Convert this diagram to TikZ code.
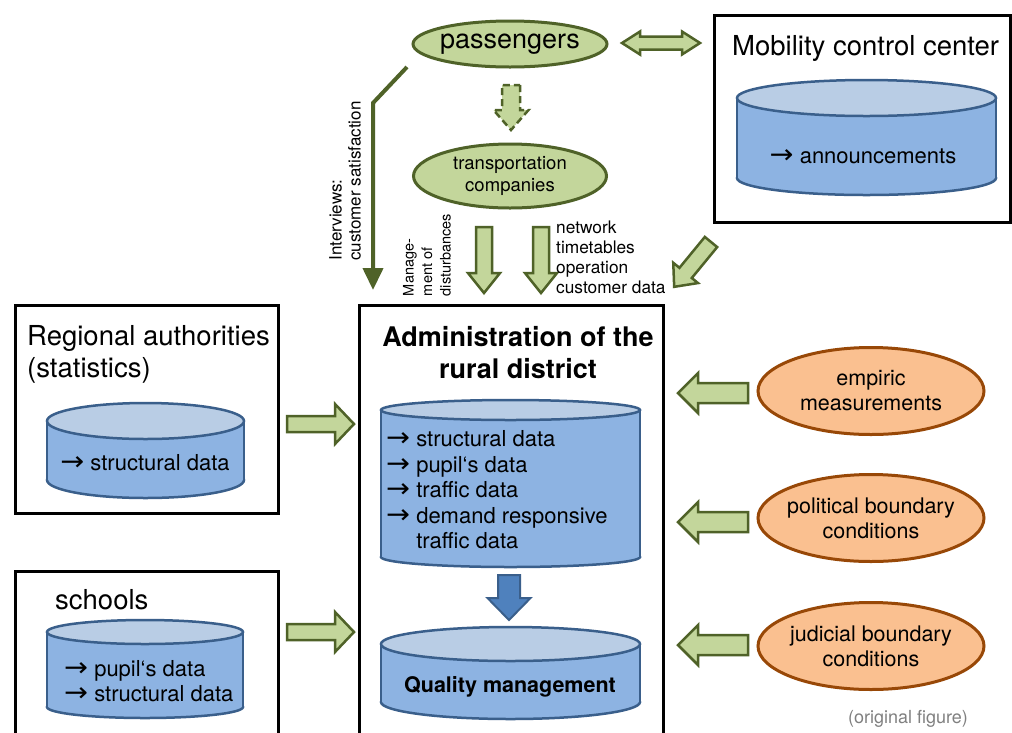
\documentclass[tikz,border=0pt]{standalone}
\usepackage{fontspec}
\setmainfont{TeX Gyre Heros}
\newfontfamily\symfont{DejaVu Sans}
\usetikzlibrary{arrows.meta,shapes.geometric}
\definecolor{gfill}{HTML}{C3D69B}
\definecolor{gline}{HTML}{4F6228}
\definecolor{bbody}{HTML}{8DB3E2}
\definecolor{btop}{HTML}{B9CDE5}
\definecolor{bline}{HTML}{3A5F8B}
\definecolor{bafill}{HTML}{4F81BD}
\definecolor{ofill}{HTML}{FAC090}
\definecolor{oline}{HTML}{984807}
\definecolor{greytext}{HTML}{808080}
\newcommand{\blkarrow}[7]{%
  \begin{scope}[shift={(#2)},rotate=#3]
    \draw[#1] (0,{-(#5)/2}) -- ({#4-#7},{-(#5)/2}) -- ({#4-#7},{-(#6)/2}) -- (#4,0)
      -- ({#4-#7},{(#6)/2}) -- ({#4-#7},{(#5)/2}) -- (0,{(#5)/2}) -- cycle;
  \end{scope}}
\newcommand{\mycyl}[6]{%
  \pgfmathsetmacro{\cxm}{(#1+#2)/2}\pgfmathsetmacro{\crx}{(#2-#1)/2}
  \filldraw[cylline, fill=bbody] (\cxm,#4) ellipse [x radius=\crx, y radius=#6];
  \fill[bbody] (#1,#3) rectangle (#2,#4);
  \draw[cylline] (#1,#3) -- (#1,#4) (#2,#3) -- (#2,#4);
  \filldraw[cylline, fill=btop] (\cxm,#3) ellipse [x radius=\crx, y radius=#5];}
\newcommand{\arr}{{\symfont\scalebox{1.3}[1.2]{→}}}
\tikzset{
  box/.style={draw=black, line width=3pt, fill=none, inner sep=0pt},
  cylline/.style={draw=bline, line width=2.5pt},
  garrow/.style={draw=gline, fill=gfill, line width=2.5pt, line join=miter},
  barrow/.style={draw=bline, fill=bafill, line width=2pt, line join=miter},
  gell/.style={ellipse, draw=gline, fill=gfill, line width=3pt, inner sep=0pt},
  oell/.style={ellipse, draw=oline, fill=ofill, line width=3pt, inner sep=0pt,
    minimum width=226pt, minimum height=87pt},
  otext/.style={inner sep=0pt, align=center, font=\fontsize{21.5pt}{25pt}\selectfont},
  title/.style={inner sep=0pt, align=left, font=\fontsize{27.5pt}{32pt}\selectfont},
  cyltext/.style={inner sep=0pt, align=left, font=\fontsize{22pt}{25.5pt}\selectfont},
  small/.style={inner sep=0pt, align=left},
}
\begin{document}
\begin{tikzpicture}[x=1pt,y=-1pt]
\useasboundingbox (0,0) rectangle (1012,732);
\clip (0,0) rectangle (1012,732);
\fill[white] (0,0) rectangle (1012,732);

% boxes
\draw[box] (714,15) rectangle (1010,222);
\node[title, anchor=west] (mobt) at (732,48) {Mobility control center};
\mycyl{737}{996}{98}{178}{18}{17}
\node[cyltext] (mobc) at (863,156) {\arr\ announcements};

\draw[box] (15,305) rectangle (278,513);
\node[title, anchor=west] (regt) at (27,354) {Regional authorities\\(statistics)};
\mycyl{47}{244}{421}{480}{18}{18}
\node[cyltext] (regc) at (145,463) {\arr\ structural data};

\draw[box] (15,571) rectangle (278,760);
\node[title, anchor=west] (schoolt) at (55,600) {schools};
\mycyl{47}{243}{632}{707}{12}{11}
\node[cyltext, anchor=west] (schoolc) at (64,681) {\arr\ pupil‘s data\\\arr\ structural data};

\draw[box] (359,305) rectangle (663,760);
\node[inner sep=0pt, align=center, font=\bfseries\fontsize{27pt}{32pt}\selectfont] (admt) at (518,353) {Administration of the\\rural district};
\mycyl{381}{640}{410}{557}{10}{10}
\node[cyltext, anchor=west] (admc) at (386,490) {\arr\ structural data\\\arr\ pupil‘s data\\\arr\ traffic data\\\arr\ demand responsive\\\hphantom{\arr} traffic data};
\blkarrow{barrow}{509,575}{-90}{45}{22}{43}{22}
\mycyl{381}{640}{644}{702}{17}{17}
\node[inner sep=0pt, font=\bfseries\fontsize{21.5pt}{24pt}\selectfont] (qm) at (510,687) {Quality management};

% ellipses
\node[gell, minimum width=194pt, minimum height=46pt] (pass) at (510,44) {};
\node[inner sep=0pt, font=\fontsize{27pt}{30pt}\selectfont] (passt) at (pass.center) {passengers};
\node[gell, minimum width=193pt, minimum height=64pt] (trans) at (510,176) {};
\node[inner sep=0pt, align=center, font=\fontsize{18.5pt}{22pt}\selectfont] (transt) at (trans.center) {transportation\\companies};
\node[oell] (emp) at (871,391) {};
\node[otext] (empt) at (emp.center) {empiric\\measurements};
\node[oell] (pol) at (871,518) {};
\node[otext] (polt) at (pol.center) {political boundary\\conditions};
\node[oell] (jud) at (871,646) {};
\node[otext] (judt) at (jud.center) {judicial boundary\\conditions};

% block arrows
\draw[garrow] (622,43) -- (640,31.5) -- (640,36.5) -- (682,36.5) -- (682,31.5) -- (700,43)
  -- (682,54.5) -- (682,49.5) -- (640,49.5) -- (640,54.5) -- cycle;
\blkarrow{garrow, dashed, dash pattern=on 7pt off 4pt}{511,85}{-90}{45}{18}{35}{20}
\blkarrow{garrow}{484,227}{-90}{66}{16}{32}{20}
\blkarrow{garrow}{541,227}{-90}{66}{16}{32}{20}
\blkarrow{garrow}{711,242}{230.6}{58}{16}{32}{18}
\blkarrow{garrow}{287,424}{0}{67}{16}{40}{19}
\blkarrow{garrow}{287,632}{0}{67}{16}{40}{19}
\blkarrow{garrow}{748,393}{180}{70}{20}{40}{20}
\blkarrow{garrow}{748,522}{180}{70}{20}{40}{20}
\blkarrow{garrow}{748,645}{180}{70}{20}{40}{20}

% interviews connector
\coordinate (ivs) at (407,67);
\coordinate (ivb) at (373,103);
\coordinate (ive) at (373,290);
\draw[gline, line width=4pt, -{Triangle[width=20pt,length=22pt]}] (ivs) -- (ivb) -- (ive);

% labels
\node[small, rotate=90, font=\fontsize{17pt}{19pt}\selectfont] (ivl) at (345,181) {Interviews:\\customer satisfaction};
\node[small, rotate=90, font=\fontsize{14.5pt}{18.5pt}\selectfont] (mgl) at (427,255) {Manage-\\ment of\\disturbances};
\node[small, anchor=west, font=\fontsize{17.3pt}{20pt}\selectfont] (netl) at (556,257) {network\\timetables\\operation\\customer data};
\node[inner sep=0pt, text=greytext, font=\fontsize{18pt}{20pt}\selectfont] (orig) at (908,719) {(original figure)};
\end{tikzpicture}
\end{document}
